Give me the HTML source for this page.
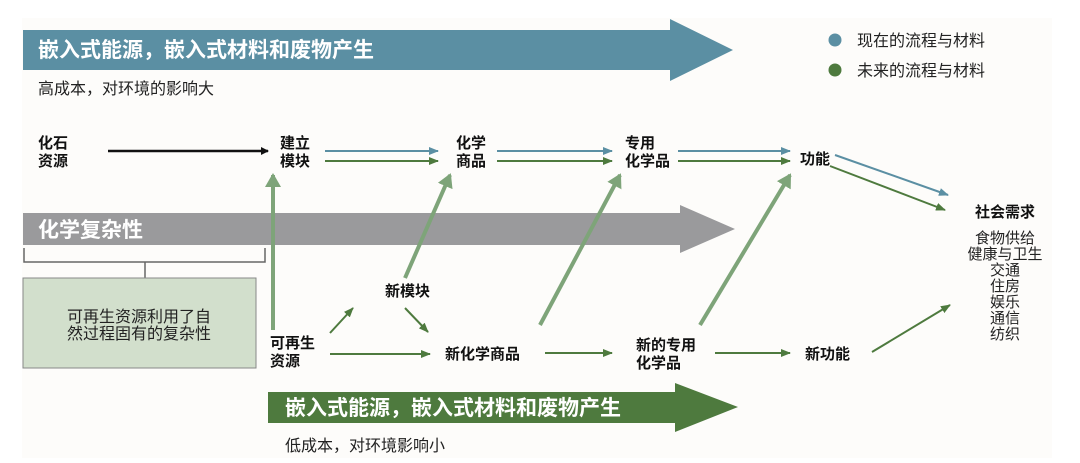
<!DOCTYPE html>
<html><head><meta charset="utf-8"><style>
html,body{margin:0;padding:0;background:#fff;}
svg{display:block;font-family:"Liberation Sans","Noto Sans CJK SC",sans-serif;}
.b{font-weight:bold;font-size:15px;fill:#111;}
.n{font-size:16px;fill:#222;}
</style></head><body>
<svg width="1080" height="463" viewBox="0 0 1080 463" xmlns="http://www.w3.org/2000/svg">
<defs>
<marker id="mk" markerWidth="8" markerHeight="8" refX="7" refY="4" orient="auto" markerUnits="userSpaceOnUse"><path d="M0,0 L8,4 L0,8 z" fill="#111"/></marker>
<marker id="mb" markerWidth="10" markerHeight="8" refX="9" refY="4" orient="auto" markerUnits="userSpaceOnUse"><path d="M0,0 L10,4 L0,8 z" fill="#5b8fa3"/></marker>
<marker id="mg" markerWidth="10" markerHeight="8" refX="9" refY="4" orient="auto" markerUnits="userSpaceOnUse"><path d="M0,0 L10,4 L0,8 z" fill="#4e7a3e"/></marker>
<marker id="ml" markerWidth="14" markerHeight="16" refX="12" refY="8" orient="auto" markerUnits="userSpaceOnUse"><path d="M0,0 L14,8 L0,16 z" fill="#7ea479"/></marker>
</defs>
<rect x="22" y="18" width="1030" height="440" fill="#fdfcfa"/>
<path d="M23,30 L670,30 L670,19 L733,50 L670,81 L670,70 L23,70 z" fill="#5b8fa3"/>
<text x="38" y="57" font-size="21" font-weight="bold" fill="#fff">嵌入式能源，嵌入式材料和废物产生</text>
<text x="38" y="94" class="n">高成本，对环境的影响大</text>
<circle cx="835" cy="40" r="6.5" fill="#5b8fa3"/>
<circle cx="835" cy="70" r="6.5" fill="#4e7a3e"/>
<text x="857" y="46" class="n">现在的流程与材料</text>
<text x="857" y="76" class="n">未来的流程与材料</text>
<path d="M23,213 L680,213 L680,205 L735,229 L680,253 L680,245 L23,245 z" fill="#9a9a9c"/>
<text x="38" y="237" font-size="21" font-weight="bold" fill="#fff">化学复杂性</text>
<path d="M24,248 V262 H265 V248 M145,262 V278" fill="none" stroke="#666" stroke-width="1.5"/>
<rect x="23" y="278" width="233" height="90" fill="#d2dfcc" stroke="#888" stroke-width="1"/>
<text x="139" y="322" class="n" text-anchor="middle">可再生资源利用了自</text>
<text x="139" y="339" class="n" text-anchor="middle">然过程固有的复杂性</text>
<path d="M268,392 L675,392 L675,383 L738,407 L675,432 L675,423 L268,423 z" fill="#4e7a3e"/>
<text x="285" y="415" font-size="21" font-weight="bold" fill="#fff">嵌入式能源，嵌入式材料和废物产生</text>
<text x="285" y="451" class="n">低成本，对环境影响小</text>
<text x="38" y="148" class="b">化石</text><text x="38" y="166" class="b">资源</text>
<text x="280" y="148" class="b">建立</text><text x="280" y="166" class="b">模块</text>
<text x="456" y="148" class="b">化学</text><text x="456" y="166" class="b">商品</text>
<text x="625" y="148" class="b">专用</text><text x="625" y="166" class="b">化学品</text>
<text x="800" y="164" class="b">功能</text>
<text x="975" y="217" class="b">社会需求</text>
<g class="n" text-anchor="middle" style="font-size:15px">
<text x="1005" y="243">食物供给</text><text x="1005" y="259">健康与卫生</text><text x="1005" y="275">交通</text><text x="1005" y="291">住房</text><text x="1005" y="307">娱乐</text><text x="1005" y="323">通信</text><text x="1005" y="339">纺织</text>
</g>
<text x="270" y="348" class="b">可再生</text><text x="270" y="366" class="b">资源</text>
<text x="385" y="296" class="b">新模块</text>
<text x="445" y="359" class="b">新化学商品</text>
<text x="636" y="350" class="b">新的专用</text><text x="636" y="368" class="b">化学品</text>
<text x="805" y="359" class="b">新功能</text>
<line x1="108" y1="151" x2="268" y2="151" stroke="#111" stroke-width="2.5" marker-end="url(#mk)"/>
<g stroke-width="2">
<line x1="325" y1="151" x2="438" y2="151" stroke="#5b8fa3" marker-end="url(#mb)"/>
<line x1="325" y1="161" x2="438" y2="161" stroke="#4e7a3e" marker-end="url(#mg)"/>
<line x1="497" y1="151" x2="612" y2="151" stroke="#5b8fa3" marker-end="url(#mb)"/>
<line x1="497" y1="161" x2="612" y2="161" stroke="#4e7a3e" marker-end="url(#mg)"/>
<line x1="678" y1="151" x2="790" y2="151" stroke="#5b8fa3" marker-end="url(#mb)"/>
<line x1="678" y1="161" x2="790" y2="161" stroke="#4e7a3e" marker-end="url(#mg)"/>
<line x1="835" y1="155" x2="948" y2="195" stroke="#5b8fa3" marker-end="url(#mb)"/>
<line x1="830" y1="166" x2="945" y2="210" stroke="#4e7a3e" marker-end="url(#mg)"/>
<line x1="330" y1="333" x2="353" y2="308" stroke="#4e7a3e" marker-end="url(#mg)"/>
<line x1="405" y1="308" x2="428" y2="332" stroke="#4e7a3e" marker-end="url(#mg)"/>
<line x1="330" y1="354" x2="430" y2="354" stroke="#4e7a3e" marker-end="url(#mg)"/>
<line x1="545" y1="353" x2="612" y2="353" stroke="#4e7a3e" marker-end="url(#mg)"/>
<line x1="715" y1="353" x2="790" y2="353" stroke="#4e7a3e" marker-end="url(#mg)"/>
<line x1="872" y1="352" x2="950" y2="305" stroke="#4e7a3e" marker-end="url(#mg)"/>
</g>
<g stroke="#7ea479" stroke-width="4">
<line x1="273" y1="330" x2="273" y2="175" marker-end="url(#ml)"/>
<line x1="405" y1="278" x2="450" y2="175" marker-end="url(#ml)"/>
<line x1="540" y1="325" x2="620" y2="175" marker-end="url(#ml)"/>
<line x1="700" y1="325" x2="790" y2="175" marker-end="url(#ml)"/>
</g>
</svg>
</body></html>
